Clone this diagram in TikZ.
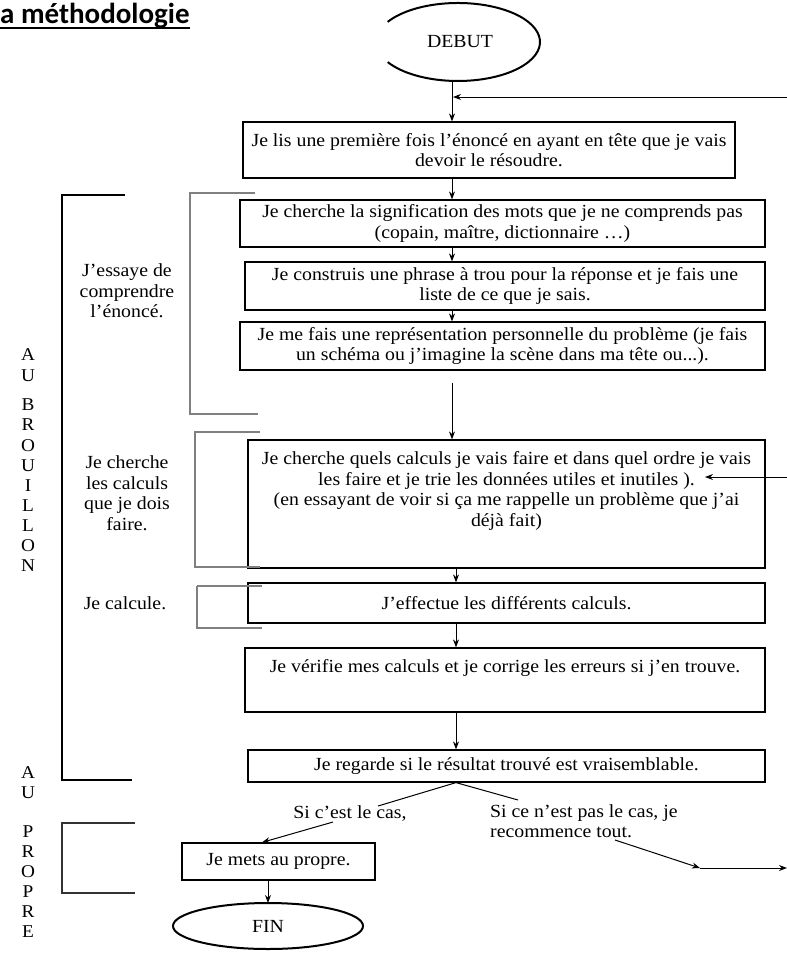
\documentclass[tikz,border=0pt]{standalone}
\usepackage{fontspec}
\setmainfont{Liberation Serif}[FakeStretch=1.07]
\newfontfamily\titlefont{Carlito}
\usetikzlibrary{arrows.meta}
\begin{document}
\begin{tikzpicture}[x=1pt,y=-1pt,
  every node/.style={inner sep=0pt},
  fs/.style={font=\fontsize{18.5}{20.5}\selectfont},
  box/.style={draw, line width=1.2pt, align=center, fs},
  txt/.style={align=center, fs},
  letter/.style={font=\fontsize{18}{20}\selectfont},
  arr/.style={-{Stealth[length=8pt,width=6pt]}, line width=1pt},
  ln/.style={line width=1pt},
  blk/.style={line width=1.2pt},
  gbrk/.style={line width=2.6pt, draw=gray},
  tbrk/.style={line width=1.4pt, draw=gray},
  ell/.style={line width=2pt},
]
\useasboundingbox (0,0) rectangle (787,954);
% title
\node[anchor=base west, font=\titlefont\bfseries\fontsize{29}{32}\selectfont] (title) at (0,23) {a méthodologie};
\draw[line width=2pt] (title.base west) ++(0,5) coordinate (ulL) -- (ulL -| title.east);
% axis for vertical arrows
\coordinate (ax) at (452,0);
\coordinate (ay) at (456,0);
% DEBUT
\node[fs] (debut) at (460,42) {DEBUT};
\draw[ell] (387.7,21.9) arc[start angle=149, end angle=-149, x radius=82pt, y radius=39pt];
\coordinate (debS) at (452,81);
% boxes
\node[box, minimum width=492pt, minimum height=56pt] (b1) at (489,150)
  {Je lis une première fois l’énoncé en ayant en tête que je vais\\devoir le résoudre.};
\node[box, minimum width=525pt, minimum height=47pt] (b2) at (502.5,223.5)
  {Je cherche la signification des mots que je ne comprends pas\\(copain, maître, dictionnaire …)};
\node[box, minimum width=520pt, minimum height=48pt] (b3) at (505,286)
  {Je construis une phrase à trou pour la réponse et je fais une\\liste de ce que je sais.};
\node[box, minimum width=525pt, minimum height=48pt] (b4) at (502.5,346)
  {Je me fais une représentation personnelle du problème (je fais\\un schéma ou j’imagine la scène dans ma tête ou...).};
\node[draw, line width=1.2pt, minimum width=517pt, minimum height=128pt] (b5) at (506.5,504) {};
\node[txt, anchor=north] (t5) at ([yshift=-12pt]b5.north)
  {Je cherche quels calculs je vais faire et dans quel ordre je vais\\les faire et je trie les données utiles et inutiles ).\\(en essayant de voir si ça me rappelle un problème que j’ai\\déjà fait)};
\node[box, minimum width=517pt, minimum height=40pt] (b6) at (506.5,603)
  {J’effectue les différents calculs.};
\node[draw, line width=1.2pt, minimum width=520pt, minimum height=64pt] (b7) at (505,680) {};
\node[txt] (t7) at (505,668) {Je vérifie mes calculs et je corrige les erreurs si j’en trouve.};
\node[box, minimum width=517pt, minimum height=32pt] (b8) at (506.5,766)
  {Je regarde si le résultat trouvé est vraisemblable.};
\node[box, minimum width=193pt, minimum height=37pt] (b9) at (278.5,861.5)
  {Je mets au propre.};
\node[fs] (fin) at (268,926) {FIN};
\draw[ell] (fin) ellipse[x radius=95pt, y radius=23pt];
% vertical arrows
\draw[arr] (debS) -- (b1.north -| ax);
\draw[arr] (b1.south -| ax) -- (b2.north -| ax);
\draw[arr] (b2.south -| ax) -- (b3.north -| ax);
\draw[arr] (b3.south -| ax) -- (b4.north -| ax);
\draw[arr] ([yshift=-12pt]b4.south -| ax) -- (b5.north -| ax);
\draw[arr] (b5.south -| ay) -- (b6.north -| ay);
\draw[arr] (b6.south -| ay) -- (b7.north -| ay);
\draw[arr] (b7.south -| ay) -- (b8.north -| ay);
\coordinate (finN) at (268,903);
\draw[arr] (b9.south -| finN) -- (finN);
% feedback arrows
\coordinate (fbR) at (787,97);
\coordinate (fbL) at (453,97);
\draw[arr] (fbR) -- (fbL);
\coordinate (inR) at (787,477);
\coordinate (inL) at (705,477);
\draw[arr] (inR) -- (inL);
% decision
\coordinate (split) at (b8.south -| ay);
\coordinate (yesEnd) at (378,806);
\coordinate (noEnd) at (518,800);
\draw[ln] (yesEnd) -- (split) -- (noEnd);
\node[fs] (yes) at (350,813) {Si c’est le cas,};
\node[fs, align=left, anchor=north west] (no) at (490,804)
  {Si ce n’est pas le cas, je\\recommence tout.};
\coordinate (yesS) at (333,822);
\draw[arr] (yesS) -- (b9.north -| 262,0);
\coordinate (noS) at (615,840);
\coordinate (noK) at (700,868);
\coordinate (noR) at (787,868);
\draw[arr] (noS) -- (noK);
\draw[arr] (noK) -- (noR);
% brackets
\draw[blk] (125,195) -- (62,195) -- (62,780) -- (132,780);
\draw[gbrk] (255,193) -- (190,193) -- (190,414) -- (258,414);
\draw[gbrk] (260,432) -- (195,432) -- (195,567) -- (260,567);
\draw[gbrk] (262,586) -- (197,586);
\draw[tbrk] (197,586) -- (197,628) -- (262,628);
\draw[blk, draw=black!80] (135,823) -- (62,823) -- (62,893) -- (135,893);
% side labels
\node[txt] (lab1) at (127,291) {J’essaye de\\comprendre\\l’énoncé.};
\node[txt] (lab2) at (127,493) {Je cherche\\les calculs\\que je dois\\faire.};
\node[fs] (lab3) at (125,603) {Je calcule.};
% vertical letters
\foreach \l/\y [count=\i] in {A/355,U/376,B/405,R/425,O/446,U/466,I/486,L/506,L/526,O/546,N/566,A/773,U/793,P/832,R/852,O/872,P/892,R/912,E/932}
  \node[letter] (v\i) at (28,\y) {\l};
\end{tikzpicture}
\end{document}
